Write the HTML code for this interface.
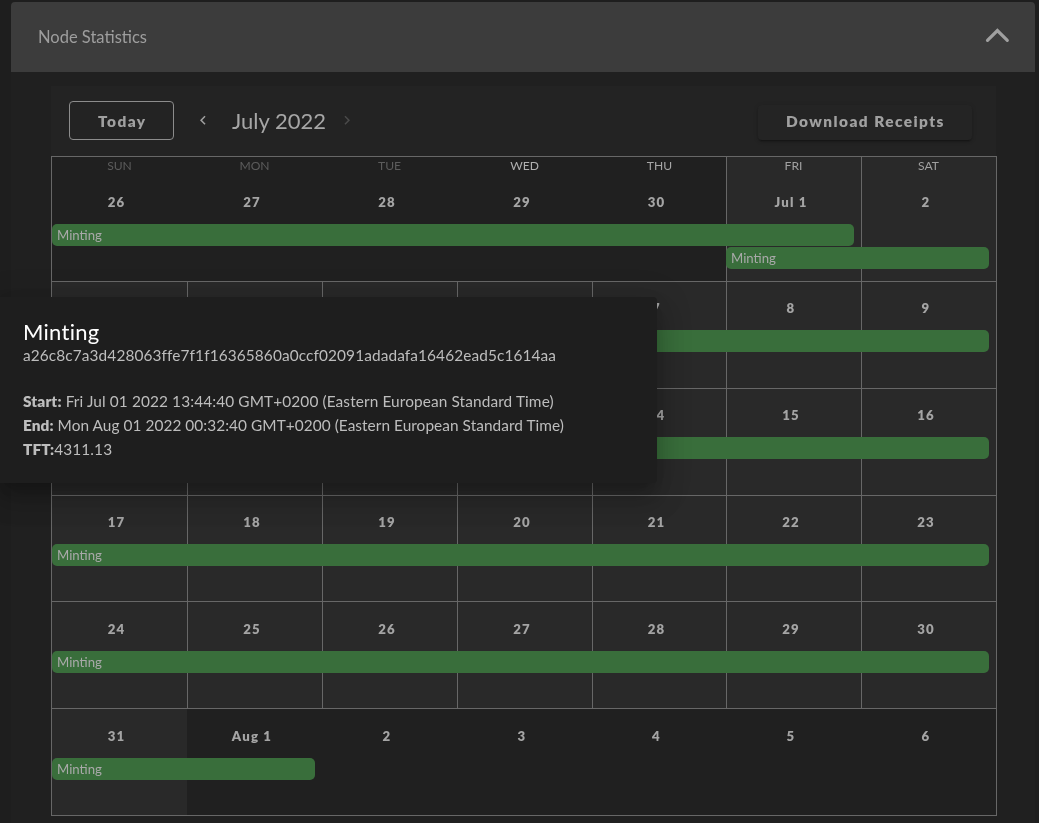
<!DOCTYPE html>
<html>
<head>
<meta charset="utf-8">
<style>
* { box-sizing: border-box; margin: 0; padding: 0; }
html, body { width: 1039px; height: 823px; overflow: hidden; }
body { background: #1e1e1e; font-family: "Lato", "Liberation Sans", sans-serif; position: relative; }
.abs { position: absolute; }
#hdr { left: 11px; top: 2px; width: 1024px; height: 70px; background: #3c3c3c; border-radius: 4px 4px 0 0; }
#hdr .t { left: 27px; top: 25px; font-size: 16.5px; line-height: 20px; color: #9e9e9e; white-space: nowrap; }
#pbody { left: 11px; top: 72px; width: 1024px; height: 760px; background: #202020; }
#tb { left: 51px; top: 86px; width: 945px; height: 70px; background: #232323; }
.btn-today { left: 69px; top: 101px; width: 105px; height: 39px; border: 1px solid #8c8c8c; border-radius: 4px; }
.btxt { font-weight: 800; font-size: 15.4px; letter-spacing: 1.45px; color: #a0a0a0; white-space: nowrap; line-height: 20px; }
.btn-dl { left: 758px; top: 105px; width: 214px; height: 35px; border-radius: 4px; background: #242424;
  box-shadow: 0 3px 1px -2px rgba(0,0,0,.2), 0 2px 2px 0 rgba(0,0,0,.14), 0 1px 5px 0 rgba(0,0,0,.12); }
.title { left: 232px; top: 107px; font-size: 22px; line-height: 28px; color: #a6a6a6; white-space: nowrap; }

#cal { left: 51px; top: 156px; width: 946px; height: 660px; background: #202020; }
.in { position: absolute; background: #292929; }
.hl { position: absolute; height: 1px; background: #676767; }
.vl { position: absolute; width: 1px; background: #676767; }
.wd { position: absolute; width: 135px; text-align: center; font-size: 12.1px; line-height: 14px; top: 159px; white-space: nowrap; }
.dn { position: absolute; width: 135px; text-align: center; font-size: 13.2px; font-weight: 800; letter-spacing: 0.0892857em; line-height: 16px; color: #a4a4a4; white-space: nowrap; }
.ev { position: absolute; height: 22px; background: #396e3b; border-radius: 5px; color: #a9a9a9; font-size: 13.2px; line-height: 22px; padding-left: 5px; white-space: nowrap; overflow: hidden; }

#menu { left: 0px; top: 297px; width: 657px; height: 186px; background: #1e1e1e; border-radius: 0 4px 4px 0;
  box-shadow: 0 8.8px 11px -5.5px rgba(0,0,0,.2), 0 17.6px 26.4px 2.2px rgba(0,0,0,.14), 0 6.6px 33px 5.5px rgba(0,0,0,.12); }
#menu .mt { left: 23px; top: 320px; font-size: 22px; line-height: 26px; color: #ffffff; white-space: nowrap; }
#menu .mx { left: 23px; font-size: 15.5px; line-height: 24px; color: #bdbdbd; white-space: nowrap; }
b { font-weight: 800; }
</style>
</head>
<body>
<div id="hdr" class="abs"></div>
<div class="abs" style="left:38px;top:27px;font-size:16.5px;line-height:20px;color:#9e9e9e;white-space:nowrap;">Node Statistics</div>
<svg class="abs" style="left:980px;top:20px" width="36" height="30" viewBox="980 20 36 30">
  <polyline points="987.5,40.3 997.4,30.5 1007.3,40.3" fill="none" stroke="#a0a0a0" stroke-width="3.2" stroke-linecap="round" stroke-linejoin="miter"/>
</svg>
<div id="pbody" class="abs"></div>

<div id="tb" class="abs"></div>
<div class="abs btn-today"></div>
<div class="abs btxt" style="left:98px;top:111px;">Today</div>
<svg class="abs" style="left:194px;top:111px" width="18" height="18" viewBox="0 0 24 24">
  <path transform="translate(0,0.33)" d="M15.41,16.58L10.83,12L15.41,7.41L14,6L8,12L14,18L15.41,16.58Z" fill="#a0a0a0"/>
</svg>
<div class="abs title">July 2022</div>
<svg class="abs" style="left:338px;top:111px" width="18" height="18" viewBox="0 0 24 24">
  <path transform="translate(0,0.33)" d="M8.59,16.58L13.17,12L8.59,7.41L10,6L16,12L10,18L8.59,16.58Z" fill="#4a4a4a"/>
</svg>
<div class="abs btn-dl"></div>
<div class="abs btxt" style="left:786px;top:111px;">Download Receipts</div>

<div id="cal" class="abs"></div>
<!-- in-month backgrounds -->
<div class="in" style="left:727px;top:157px;width:269px;height:124px;"></div>
<div class="in" style="left:52px;top:282px;width:944px;height:426px;"></div>
<div class="in" style="left:52px;top:709px;width:135px;height:106px;"></div>

<!-- lines -->
<div class="hl" style="left:51px;top:156px;width:946px;"></div>
<div class="hl" style="left:51px;top:281px;width:946px;"></div>
<div class="hl" style="left:51px;top:388px;width:946px;"></div>
<div class="hl" style="left:51px;top:495px;width:946px;"></div>
<div class="hl" style="left:51px;top:601px;width:946px;"></div>
<div class="hl" style="left:51px;top:708px;width:946px;"></div>
<div class="hl" style="left:51px;top:815px;width:946px;"></div>
<div class="vl" style="left:51px;top:156px;height:660px;"></div>
<div class="vl" style="left:996px;top:156px;height:660px;"></div>
<div class="vl" style="left:726px;top:156px;height:552px;"></div>
<div class="vl" style="left:861px;top:156px;height:552px;"></div>
<div class="vl" style="left:187px;top:281px;height:427px;"></div>
<div class="vl" style="left:322px;top:281px;height:427px;"></div>
<div class="vl" style="left:457px;top:281px;height:427px;"></div>
<div class="vl" style="left:592px;top:281px;height:427px;"></div>

<!-- weekday header -->
<div class="wd" style="left:52px;color:#5c5c5c;">SUN</div>
<div class="wd" style="left:187px;color:#5c5c5c;">MON</div>
<div class="wd" style="left:322px;color:#5c5c5c;">TUE</div>
<div class="wd" style="left:457px;color:#b0b0b0;">WED</div>
<div class="wd" style="left:592px;color:#a6a6a6;">THU</div>
<div class="wd" style="left:726px;color:#a0a0a0;">FRI</div>
<div class="wd" style="left:861px;color:#a0a0a0;">SAT</div>

<!-- day numbers -->
<div class="dn" style="left:49px;top:194px;width:135px;">26</div>
<div class="dn" style="left:185px;top:194px;width:134px;">27</div>
<div class="dn" style="left:320px;top:194px;width:134px;">28</div>
<div class="dn" style="left:455px;top:194px;width:134px;">29</div>
<div class="dn" style="left:590px;top:194px;width:133px;">30</div>
<div class="dn" style="left:724px;top:194px;width:134px;">Jul 1</div>
<div class="dn" style="left:859px;top:194px;width:134px;">2</div>
<div class="dn" style="left:49px;top:300px;width:135px;">3</div>
<div class="dn" style="left:185px;top:300px;width:134px;">4</div>
<div class="dn" style="left:320px;top:300px;width:134px;">5</div>
<div class="dn" style="left:455px;top:300px;width:134px;">6</div>
<div class="dn" style="left:590px;top:300px;width:133px;">7</div>
<div class="dn" style="left:724px;top:300px;width:134px;">8</div>
<div class="dn" style="left:859px;top:300px;width:134px;">9</div>
<div class="dn" style="left:49px;top:407px;width:135px;">10</div>
<div class="dn" style="left:185px;top:407px;width:134px;">11</div>
<div class="dn" style="left:320px;top:407px;width:134px;">12</div>
<div class="dn" style="left:455px;top:407px;width:134px;">13</div>
<div class="dn" style="left:590px;top:407px;width:133px;">14</div>
<div class="dn" style="left:724px;top:407px;width:134px;">15</div>
<div class="dn" style="left:859px;top:407px;width:134px;">16</div>
<div class="dn" style="left:49px;top:514px;width:135px;">17</div>
<div class="dn" style="left:185px;top:514px;width:134px;">18</div>
<div class="dn" style="left:320px;top:514px;width:134px;">19</div>
<div class="dn" style="left:455px;top:514px;width:134px;">20</div>
<div class="dn" style="left:590px;top:514px;width:133px;">21</div>
<div class="dn" style="left:724px;top:514px;width:134px;">22</div>
<div class="dn" style="left:859px;top:514px;width:134px;">23</div>
<div class="dn" style="left:49px;top:621px;width:135px;">24</div>
<div class="dn" style="left:185px;top:621px;width:134px;">25</div>
<div class="dn" style="left:320px;top:621px;width:134px;">26</div>
<div class="dn" style="left:455px;top:621px;width:134px;">27</div>
<div class="dn" style="left:590px;top:621px;width:133px;">28</div>
<div class="dn" style="left:724px;top:621px;width:134px;">29</div>
<div class="dn" style="left:859px;top:621px;width:134px;">30</div>
<div class="dn" style="left:49px;top:728px;width:135px;">31</div>
<div class="dn" style="left:185px;top:728px;width:134px;">Aug 1</div>
<div class="dn" style="left:320px;top:728px;width:134px;">2</div>
<div class="dn" style="left:455px;top:728px;width:134px;">3</div>
<div class="dn" style="left:590px;top:728px;width:133px;">4</div>
<div class="dn" style="left:724px;top:728px;width:134px;">5</div>
<div class="dn" style="left:859px;top:728px;width:134px;">6</div>

<!-- events -->
<div class="ev" style="left:52px;top:224px;width:802px;">Minting</div>
<div class="ev" style="left:726px;top:247px;width:263px;">Minting</div>
<div class="ev" style="left:52px;top:330px;width:937px;">Minting</div>
<div class="ev" style="left:52px;top:437px;width:937px;">Minting</div>
<div class="ev" style="left:52px;top:544px;width:937px;">Minting</div>
<div class="ev" style="left:52px;top:651px;width:937px;">Minting</div>
<div class="ev" style="left:52px;top:758px;width:263px;">Minting</div>

<!-- menu -->
<div id="menu" class="abs"></div>
<div class="abs" style="left:23px;top:319px;font-size:22px;letter-spacing:0.0125em;line-height:26px;color:#fff;white-space:nowrap;">Minting</div>
<div class="abs" style="left:23px;top:343px;font-size:15.4px;letter-spacing:0.0071428571em;line-height:24px;color:#bdbdbd;white-space:nowrap;">a26c8c7a3d428063ffe7f1f16365860a0ccf02091adadafa16462ead5c1614aa</div>
<div class="abs" style="left:23px;top:389px;font-size:15.4px;letter-spacing:0.0071428571em;line-height:24px;color:#bdbdbd;white-space:nowrap;"><b>Start:</b> Fri Jul 01 2022 13:44:40 GMT+0200 (Eastern European Standard Time)</div>
<div class="abs" style="left:23px;top:413px;font-size:15.4px;letter-spacing:0.05px;line-height:24px;color:#bdbdbd;white-space:nowrap;"><b>End:</b> Mon Aug 01 2022 00:32:40 GMT+0200 (Eastern European Standard Time)</div>
<div class="abs" style="left:23px;top:437px;font-size:15.4px;letter-spacing:0.0071428571em;line-height:24px;color:#bdbdbd;white-space:nowrap;"><b>TFT:</b>4311.13</div>
</body>
</html>
